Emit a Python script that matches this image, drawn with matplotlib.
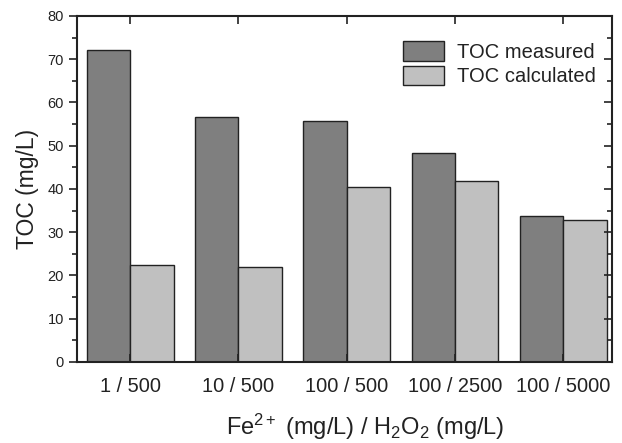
import numpy as np
import matplotlib
matplotlib.use("Agg")
import matplotlib.pyplot as plt
from matplotlib.ticker import MultipleLocator, FixedLocator

plt.rcParams["font.family"] = ["Liberation Sans", "DejaVu Sans"]
plt.rcParams["mathtext.fontset"] = "custom"
plt.rcParams["mathtext.rm"] = "Liberation Sans"
plt.rcParams["mathtext.it"] = "Liberation Sans:italic"

# données
ratios = ["1 / 500", "10 / 500", "100 / 500", "100 / 2500", "100 / 5000"]
toc_measured = [72.1, 56.7, 55.6, 48.4, 33.8]
toc_calculated = [22.3, 21.9, 40.4, 41.9, 32.9]

x = np.arange(len(ratios))
w = 0.4

fig = plt.figure(figsize=(6.22, 4.43), dpi=100, facecolor="w")
ax = fig.add_axes([0.124, 0.183, 0.86, 0.781])

ax.bar(x - w / 2, toc_measured, w, color="#7f7f7f", edgecolor="#222222",
       linewidth=1.0, label="TOC measured")
ax.bar(x + w / 2, toc_calculated, w, color="#c0c0c0", edgecolor="#222222",
       linewidth=1.0, label="TOC calculated")

ax.set_xlim(-0.49, 4.45)
ax.set_ylim(0, 80)

for s in ax.spines.values():
    s.set_linewidth(1.5)
    s.set_color("#222222")

ax.yaxis.set_major_locator(MultipleLocator(10))
ax.yaxis.set_minor_locator(MultipleLocator(5))
ax.xaxis.set_major_locator(FixedLocator(x))
ax.set_xticklabels(ratios, fontsize=14.4)
ax.tick_params(axis="y", which="major", direction="out", length=6, width=1.2,
               labelsize=10.5, right=True, colors="#222222")
ax.tick_params(axis="y", which="minor", direction="out", length=3.5, width=1.2,
               right=True, colors="#222222")
ax.tick_params(axis="x", which="major", direction="in", length=6, width=1.2,
               top=True, pad=11, colors="#222222")

# ticks de droite vers l'intérieur
for t in ax.yaxis.get_major_ticks() + ax.yaxis.get_minor_ticks():
    t.tick2line.set_marker(0)

ax.set_ylabel("TOC (mg/L)", fontsize=16.5, color="#222222", labelpad=6)
ax.set_xlabel(r"Fe$^{2+}$ (mg/L) / H$_2$O$_2$ (mg/L)", fontsize=17,
              color="#222222", labelpad=11)
ax.xaxis.label.set_x(0.538)  # le titre est décalé vers la droite sur l'original

ax.legend(loc="upper right", bbox_to_anchor=(1.0075, 0.985), frameon=False,
          fontsize=14.5, handlelength=2.05, handleheight=1.1, handletextpad=0.65,
          labelspacing=0.2, borderaxespad=0.6, labelcolor="#222222")

plt.savefig("out.png", dpi=100)
plt.close()
